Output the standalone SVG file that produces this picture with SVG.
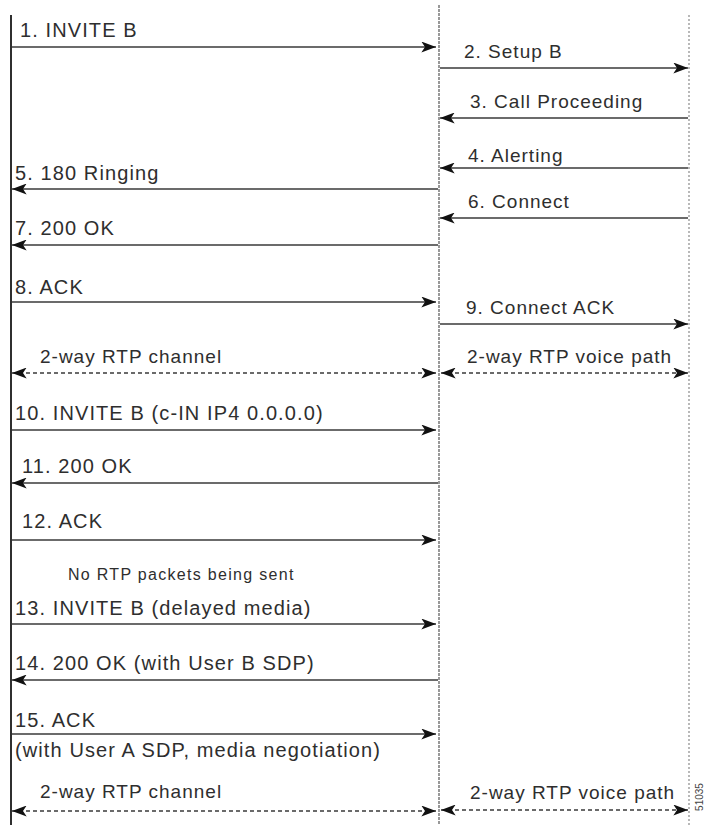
<svg xmlns="http://www.w3.org/2000/svg" width="707" height="825" viewBox="0 0 707 825">
  <style>
    .lbl { font-family: "Liberation Sans", Arial, sans-serif; font-size: 19px; letter-spacing: 1px; fill: #2e2e2e; }
    .lbl-a { font-family: "Liberation Sans", Arial, sans-serif; font-size: 20px; letter-spacing: 1.1px; fill: #2e2e2e; }
    .note { font-family: "Liberation Sans", Arial, sans-serif; font-size: 16px; letter-spacing: 1.3px; fill: #2e2e2e; }
    .tag { font-family: "Liberation Sans", Arial, sans-serif; font-size: 10px; fill: #444; }
    .msg { stroke: #3a3a3a; stroke-width: 1.7; fill: none; }
    .rtp { stroke: #3a3a3a; stroke-width: 1.3; stroke-dasharray: 4 3; fill: none; }
  </style>
  <defs>
    <marker id="head" viewBox="0 0 16 12" refX="16" refY="6" markerWidth="15" markerHeight="11" markerUnits="userSpaceOnUse" orient="auto-start-reverse">
      <path d="M0,0 L16,6 L0,12 L4,6 Z" fill="#111"/>
    </marker>
  </defs>
  <rect width="707" height="825" fill="#ffffff"/>

  <!-- lifelines: User A, proxy/gateway, User B -->
  <g id="lifeline-a">
    <line x1="11" y1="15" x2="11" y2="825" stroke="#2f2f2f" stroke-width="2"/>
  </g>
  <g id="lifeline-gw">
    <line x1="439" y1="5" x2="439" y2="825" stroke="#555" stroke-width="1.2" stroke-dasharray="3 1"/>
  </g>
  <g id="lifeline-b">
    <line x1="689" y1="15" x2="689" y2="825" stroke="#8a8a8a" stroke-width="1.2" stroke-dasharray="2 2"/>
  </g>

  <!-- message arrows -->
  <g id="connectors">
    <line class="msg" x1="12" y1="47" x2="436" y2="47" marker-end="url(#head)"/>
    <line class="msg" x1="440" y1="68" x2="688" y2="68" marker-end="url(#head)"/>
    <line class="msg" x1="688" y1="118" x2="440" y2="118" marker-end="url(#head)"/>
    <line class="msg" x1="688" y1="168" x2="440" y2="168" marker-end="url(#head)"/>
    <line class="msg" x1="438" y1="189" x2="12" y2="189" marker-end="url(#head)"/>
    <line class="msg" x1="688" y1="218" x2="440" y2="218" marker-end="url(#head)"/>
    <line class="msg" x1="438" y1="245" x2="12" y2="245" marker-end="url(#head)"/>
    <line class="msg" x1="12" y1="302" x2="436" y2="302" marker-end="url(#head)"/>
    <line class="msg" x1="440" y1="324" x2="688" y2="324" marker-end="url(#head)"/>
    <line class="rtp" x1="12" y1="373" x2="436" y2="373" marker-start="url(#head)" marker-end="url(#head)"/>
    <line class="rtp" x1="441" y1="373" x2="688" y2="373" marker-start="url(#head)" marker-end="url(#head)"/>
    <line class="msg" x1="12" y1="430" x2="436" y2="430" marker-end="url(#head)"/>
    <line class="msg" x1="438" y1="483" x2="12" y2="483" marker-end="url(#head)"/>
    <line class="msg" x1="12" y1="540" x2="436" y2="540" marker-end="url(#head)"/>
    <line class="msg" x1="12" y1="624" x2="436" y2="624" marker-end="url(#head)"/>
    <line class="msg" x1="438" y1="680" x2="12" y2="680" marker-end="url(#head)"/>
    <line class="msg" x1="12" y1="734" x2="436" y2="734" marker-end="url(#head)"/>
    <line class="rtp" x1="12" y1="811" x2="436" y2="811" marker-start="url(#head)" marker-end="url(#head)"/>
    <line class="rtp" x1="441" y1="810" x2="688" y2="810" marker-start="url(#head)" marker-end="url(#head)"/>
  </g>

  <!-- message labels -->
  <g id="labels">
    <text class="lbl-a" x="20" y="37">1. INVITE B</text>
    <text class="lbl" x="464" y="58">2. Setup B</text>
    <text class="lbl" x="470" y="108">3. Call Proceeding</text>
    <text class="lbl" x="468" y="162">4. Alerting</text>
    <text class="lbl-a" x="15" y="180">5. 180 Ringing</text>
    <text class="lbl" x="468" y="208">6. Connect</text>
    <text class="lbl-a" x="15" y="235">7. 200 OK</text>
    <text class="lbl-a" x="15" y="294">8. ACK</text>
    <text class="lbl" x="466" y="314">9. Connect ACK</text>
    <text class="lbl" x="40" y="363">2-way RTP channel</text>
    <text class="lbl" x="467" y="363">2-way RTP voice path</text>
    <text class="lbl-a" x="15" y="420">10. INVITE B (c-IN IP4 0.0.0.0)</text>
    <text class="lbl-a" x="22" y="473">11. 200 OK</text>
    <text class="lbl-a" x="22" y="528">12. ACK</text>
    <text class="note" x="68" y="580">No RTP packets being sent</text>
    <text class="lbl-a" x="15" y="615">13. INVITE B (delayed media)</text>
    <text class="lbl-a" x="15" y="670">14. 200 OK (with User B SDP)</text>
    <text class="lbl-a" x="15" y="727">15. ACK</text>
    <text class="lbl-a" x="15" y="757">(with User A SDP, media negotiation)</text>
    <text class="lbl" x="40" y="798">2-way RTP channel</text>
    <text class="lbl" x="470" y="799">2-way RTP voice path</text>
    <text class="tag" x="703" y="797" text-anchor="middle" transform="rotate(-90 703 797)">51035</text>
  </g>
</svg>
